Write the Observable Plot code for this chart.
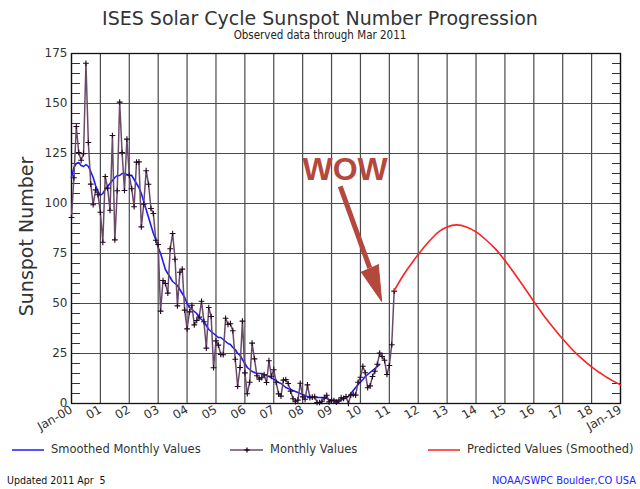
<!DOCTYPE html>
<html>
<head>
<meta charset="utf-8">
<script src="https://cdn.jsdelivr.net/npm/d3@7"></script>
<script src="https://cdn.jsdelivr.net/npm/@observablehq/plot@0.6"></script>
<style>
  html, body { margin: 0; padding: 0; background: #fff; }
  #wrap { position: relative; width: 640px; height: 489px; overflow: hidden; font-family: "DejaVu Sans", sans-serif; }
  #wrap svg.chart { position: absolute; left: 0; top: 0; }
  .abs { position: absolute; white-space: pre; line-height: 1; }
  #title { left: 0; width: 640px; text-align: center; top: 9px; font-size: 19px; color: #333; }
  #subtitle { left: 0; width: 640px; text-align: center; top: 30px; font-size: 11.5px; color: #222; font-family: "DejaVu Sans Condensed", "DejaVu Sans", sans-serif; }
  .leg { top: 444px; font-size: 11.5px; color: #333; display: flex; align-items: center; }
  .leg svg { margin-right: 6px; }
  #upd { left: 7px; top: 475px; font-size: 10.5px; color: #111; font-family: "DejaVu Sans Condensed", "DejaVu Sans", sans-serif; }
  #noaa { right: 4px; top: 475px; font-size: 11px; color: #2020ff; font-family: "DejaVu Sans Condensed", "DejaVu Sans", sans-serif; }
</style>
</head>
<body>
<div id="wrap">
  <div id="title" class="abs">ISES Solar Cycle Sunspot Number Progression</div>
  <div id="subtitle" class="abs">Observed data through Mar 2011</div>
  <div class="abs leg" style="left:12px"><svg width="33" height="12"><line x1="0" x2="32" y1="6" y2="6" stroke="#1a1aff" stroke-width="1.5"/></svg>Smoothed Monthly Values</div>
  <div class="abs leg" style="left:230px"><svg width="34" height="12"><line x1="0" x2="33" y1="6" y2="6" stroke="#6a4a6a" stroke-width="1.5"/><path d="M14.5,6H19.5M17,3.5V8.5" stroke="#220a22" stroke-width="1.3"/></svg>Monthly Values</div>
  <div class="abs leg" style="left:428px"><svg width="33" height="12"><line x1="0" x2="32" y1="6" y2="6" stroke="#ff2020" stroke-width="1.5"/></svg>Predicted Values (Smoothed)</div>
  <div id="upd" class="abs">Updated 2011 Apr  5</div>
  <div id="noaa" class="abs">NOAA/SWPC Boulder,CO USA</div>
</div>
<script>
// ---- Data ----
const years = d3.range(2000, 2020);           // x tick positions (Jan of each year)
const yTicks = d3.range(0, 176, 25);
const yMinor = d3.range(0, 176, 5);

// Monthly sunspot numbers, Jan..Dec per year
const monthly2000 = [93, 112.9, 138.5, 125.5, 121.6, 124.9, 170.1, 130.5, 109.7, 99.4, 106.8, 104.4];
const monthly2001 = [95.6, 80.6, 113.5, 107.7, 96.6, 134.0, 81.8, 106.4, 150.7, 125.5, 106.5, 132.2];
const monthly2002 = [114.1, 107.4, 98.4, 120.7, 120.8, 88.3, 99.6, 116.4, 109.6, 97.5, 95.0, 81.6];
const monthly2003 = [79.5, 46.2, 61.5, 60.0, 55.2, 77.4, 85.0, 72.1, 48.8, 65.6, 67.2, 46.7];
const monthly2004 = [37.3, 45.8, 49.1, 39.3, 41.5, 43.2, 51.1, 40.9, 27.7, 48.0, 43.5, 17.9];
const monthly2005 = [31.3, 29.2, 24.5, 24.4, 42.6, 39.6, 39.9, 36.4, 22.1, 8.5, 18.0, 41.2];
const monthly2006 = [15.3, 4.9, 10.6, 30.2, 22.3, 13.9, 12.2, 12.9, 14.4, 10.5, 21.4, 13.6];
const monthly2007 = [16.9, 10.6, 4.8, 3.7, 11.7, 12.0, 10.0, 6.2, 2.4, 0.9, 1.7, 10.1];
const monthly2008 = [3.3, 2.1, 9.3, 2.9, 3.2, 3.4, 0.5, 0.5, 1.1, 2.9, 4.1, 0.8];
const monthly2009 = [1.5, 1.4, 0.7, 1.2, 2.9, 2.6, 3.5, 0.0, 4.2, 4.6, 4.2, 10.6];
const monthly2010 = [13.1, 18.6, 15.4, 7.9, 8.8, 13.5, 16.1, 19.6, 25.2, 23.5, 21.6, 14.5];
const monthly2011 = [19.0, 29.4, 56.2];

// 13-month smoothed values, Jan..Dec per year
const smoothed2000 = [113, 118, 120, 120.5, 119, 118.5, 119.5, 118.5, 116, 113, 109, 106];
const smoothed2001 = [104, 105, 107, 108.5, 110, 111.5, 113, 114, 114, 115, 115, 114.5];
const smoothed2002 = [114, 114, 112, 110, 108, 105, 101, 97, 93, 89, 85, 82];
const smoothed2003 = [78, 75, 71, 67, 65, 63, 61, 60, 59, 57, 55, 53];
const smoothed2004 = [50, 48, 47, 46, 45, 43, 42, 41, 39, 37, 36, 35];
const smoothed2005 = [34, 33, 33, 32, 31, 30, 29.5, 28, 27, 25, 24, 22];
const smoothed2006 = [20, 18, 17, 16, 15.5, 15, 15, 15, 14.5, 14, 13.5, 13];
const smoothed2007 = [12, 11.5, 10.5, 10, 9, 8, 7.5, 7, 6.5, 6, 5.5, 5];
const smoothed2008 = [4.5, 4, 3.5, 3.2, 3, 3, 3, 3, 3, 2.8, 2.5, 2];
const smoothed2009 = [1.8, 1.7, 1.6, 1.6, 1.8, 2.2, 2.8, 3.5, 5, 6.5, 8, 9.5];
const smoothed2010 = [10.7, 12, 13.5, 14.5, 15.5, 16.5, 17.5, 18.5, 19.5];

// Predicted (smoothed) values
const predYear  = [2011.17, 2011.5, 2011.83, 2012.0, 2012.25, 2012.5, 2012.75, 2013.0, 2013.33, 2013.67, 2014.0, 2014.33, 2014.67, 2015.0, 2015.33, 2015.67, 2016.0, 2016.33, 2016.67, 2017.0, 2017.33, 2017.67, 2018.0, 2018.5, 2019.0];
const predValue = [56.5, 64.5, 71.3, 74.5, 79, 83, 86.3, 88.3, 89.3, 88.3, 85.8, 82, 77.3, 71.5, 65, 58, 51, 44.3, 38, 32.2, 27, 22.3, 18.3, 13.3, 9.3];

// Annotation
const wowLabel = [{t: 2009.47, v: 117, text: "WOW"}];
const wowShaft = [{t1: 2009.30, v1: 108.6, t2: 2010.32, v2: 67.8}];
const wowHead  = [{t: 2010.02, v: 65.9}, {t: 2010.735, v: 51.0}, {t: 2010.617, v: 69.6}];

// ---- Build tidy tables ----
const monthlyByYear = [monthly2000, monthly2001, monthly2002, monthly2003, monthly2004, monthly2005, monthly2006, monthly2007, monthly2008, monthly2009, monthly2010, monthly2011];
const smoothedByYear = [smoothed2000, smoothed2001, smoothed2002, smoothed2003, smoothed2004, smoothed2005, smoothed2006, smoothed2007, smoothed2008, smoothed2009, smoothed2010];
const monthly = monthlyByYear.flatMap((arr, i) => arr.map((v, m) => ({t: 2000 + i + m / 12, v})));
const smoothed = smoothedByYear.flatMap((arr, i) => arr.map((v, m) => ({t: 2000 + i + m / 12, v})));
const predicted = predYear.map((t, i) => ({t, v: predValue[i]}));

const fmtYear = y => y === 2000 ? "Jan-00" : y === 2019 ? "Jan-19" : String(y % 100).padStart(2, "0");
const arrowColor = "#b5483c";

const chart = Plot.plot({
  width: 640,
  height: 489,
  marginLeft: 71,
  marginRight: 20,
  marginTop: 53,
  marginBottom: 86,
  style: {fontFamily: "DejaVu Sans, sans-serif", fontSize: "12px", color: "#333", background: "transparent", overflow: "visible"},
  x: {domain: [2000, 2019]},
  y: {domain: [0, 175]},
  marks: [
    Plot.ruleX(years, {stroke: "#4a4a4a", strokeWidth: 1.2}),
    Plot.ruleY(yTicks, {stroke: "#4a4a4a", strokeWidth: 1.2}),
    Plot.axisY({anchor: "left", ticks: yMinor, tickSize: -9, tickFormat: () => "", stroke: "#333"}),
    Plot.axisY({anchor: "right", ticks: yMinor, tickSize: -9, tickFormat: () => "", stroke: "#333"}),
    Plot.axisY({anchor: "left", ticks: yTicks, tickSize: 0, tickPadding: 4, label: null, fontSize: 12, fill: "#333"}),
    Plot.axisX({ticks: years, tickFormat: fmtYear, tickRotate: -30, tickSize: 0, tickPadding: 5, label: null, fontSize: 12, fill: "#333"}),
    Plot.text(["Sunspot Number"], {frameAnchor: "left", textAnchor: "middle", rotate: -90, dx: -45, dy: 8, fontSize: 19, fill: "#333"}),
    Plot.frame({stroke: "#111", strokeWidth: 1.3}),
    Plot.line(smoothed, {x: "t", y: "v", stroke: "#1a1aff", strokeWidth: 1.6}),
    Plot.line(monthly, {x: "t", y: "v", stroke: "#6a4a6a", strokeWidth: 1.5}),
    Plot.dot(monthly, {x: "t", y: "v", symbol: "plus", r: 2, stroke: "#220a22", strokeWidth: 1.1}),
    Plot.line(predicted, {x: "t", y: "v", stroke: "#ff2020", strokeWidth: 1.6, curve: "monotone-x"}),
    Plot.link(wowShaft, {x1: "t1", y1: "v1", x2: "t2", y2: "v2", stroke: arrowColor, strokeWidth: 5}),
    Plot.line(wowHead, {x: "t", y: "v", fill: arrowColor, stroke: arrowColor, strokeWidth: 1}),
    Plot.text(wowLabel, {x: "t", y: "v", text: "text", fontSize: 32, fontWeight: "bold", fontFamily: "Liberation Sans, Arial, sans-serif", fill: arrowColor})
  ]
});
chart.classList.add("chart");
document.getElementById("wrap").prepend(chart);
</script>
</body>
</html>
